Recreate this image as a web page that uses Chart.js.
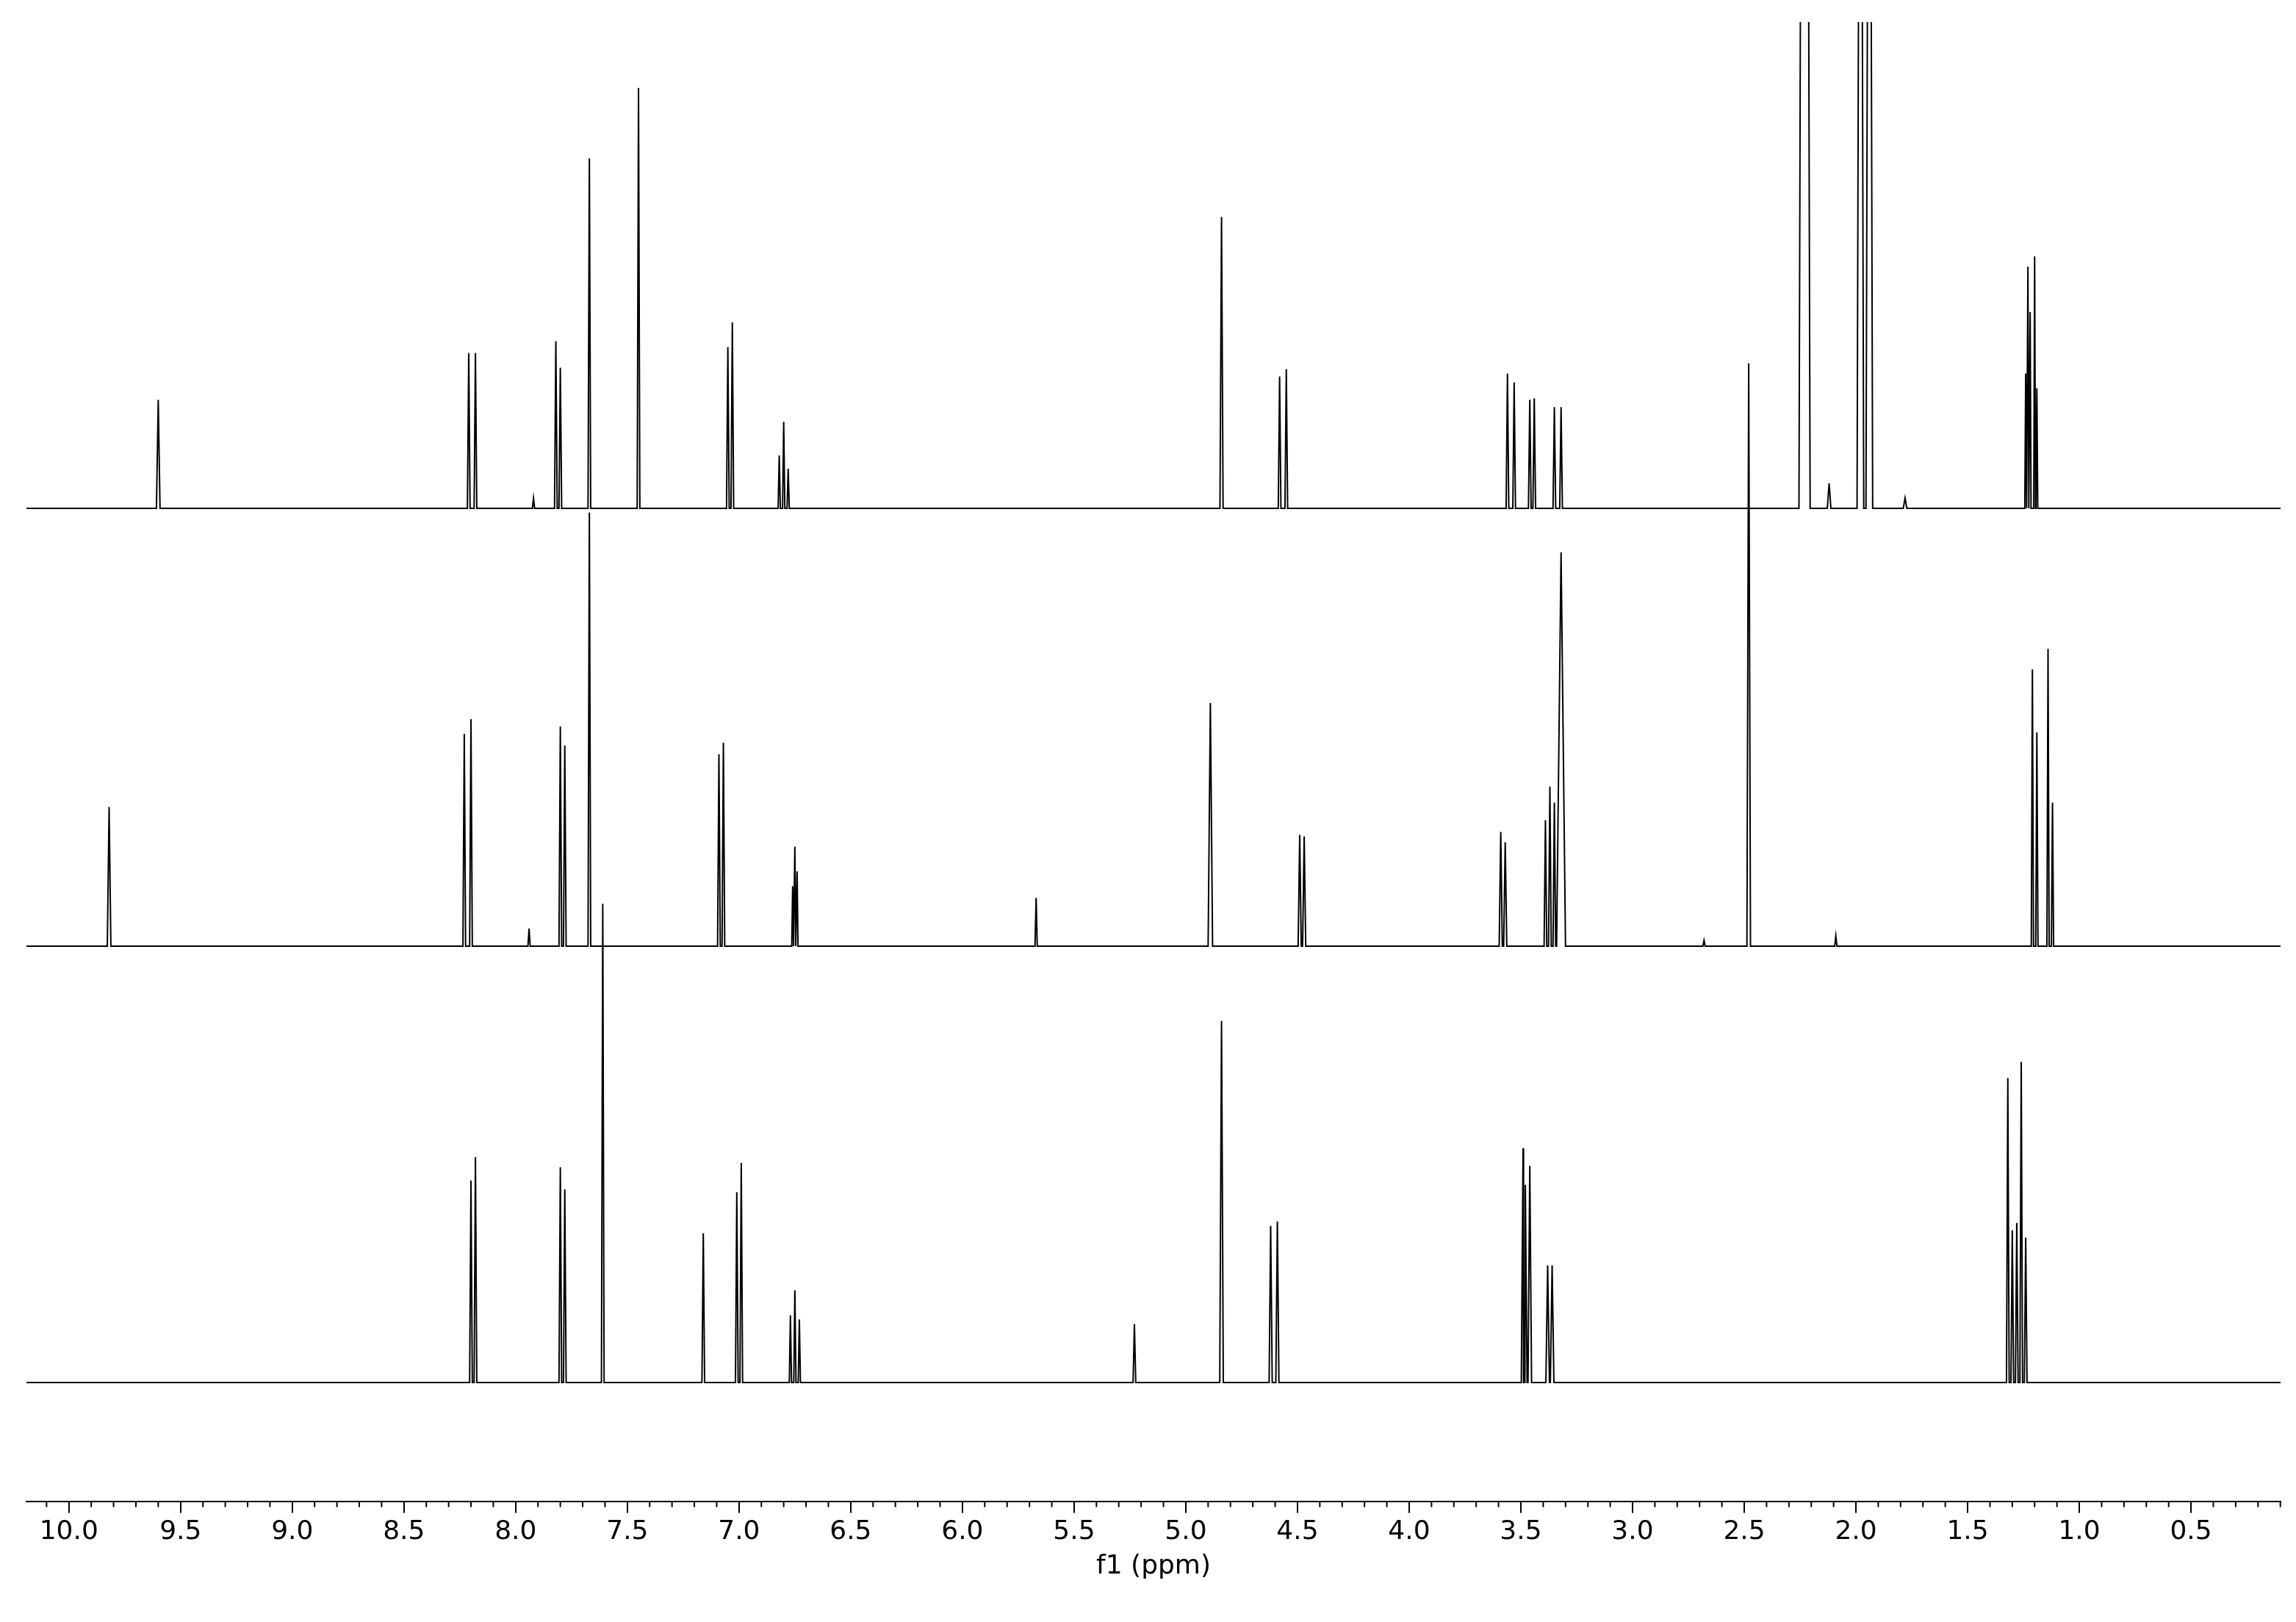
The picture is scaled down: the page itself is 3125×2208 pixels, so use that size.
<!DOCTYPE html>
<html>
<head>
<meta charset="utf-8">
<script src="https://cdn.jsdelivr.net/npm/chart.js@4"></script>
<style>
  html, body { margin: 0; padding: 0; background: #fff; }
  #wrap { width: 3125px; height: 2208px; }
</style>
</head>
<body>
<div id="wrap"><canvas id="nmr" width="3125" height="2208"></canvas></div>
<script>
// peak lists: ppm, height above the trace baseline, half width (ppm)
var topPpm    = [9.60, 8.21, 8.18, 7.92, 7.82, 7.80, 7.67, 7.45, 7.05, 7.03, 6.82, 6.80, 6.78, 4.84, 4.58, 4.55, 3.56, 3.53, 3.46, 3.44, 3.35, 3.32, 2.24, 2.22, 2.12, 1.98, 1.94, 1.78, 1.24, 1.23, 1.22, 1.20, 1.19];
var topHeight = [74, 106, 106, 7, 114, 96, 239, 287, 110, 127, 36, 59, 27, 199, 90, 95, 92, 86, 74, 75, 69, 69, 800, 800, 17, 800, 800, 7, 92, 165, 134, 172, 82];
var topWidth  = [0.008, 0.006, 0.006, 0.005, 0.006, 0.006, 0.006, 0.006, 0.006, 0.006, 0.005, 0.005, 0.005, 0.007, 0.006, 0.006, 0.006, 0.006, 0.006, 0.006, 0.006, 0.006, 0.035, 0.035, 0.008, 0.015, 0.015, 0.008, 0.004, 0.004, 0.004, 0.004, 0.004];

var midPpm    = [9.82, 8.23, 8.20, 7.94, 7.80, 7.78, 7.67, 7.09, 7.07, 6.76, 6.75, 6.74, 5.67, 4.89, 4.49, 4.47, 3.59, 3.57, 3.39, 3.37, 3.35, 3.32, 2.68, 2.48, 2.09, 1.21, 1.19, 1.14, 1.12];
var midHeight = [95, 145, 155, 12, 150, 137, 296, 131, 139, 41, 68, 51, 33, 166, 76, 75, 78, 71, 86, 109, 98, 269, 4, 398, 7, 189, 146, 203, 98];
var midWidth  = [0.008, 0.006, 0.006, 0.005, 0.006, 0.006, 0.006, 0.006, 0.006, 0.004, 0.004, 0.004, 0.005, 0.01, 0.007, 0.007, 0.007, 0.007, 0.006, 0.006, 0.006, 0.02, 0.005, 0.008, 0.005, 0.005, 0.005, 0.005, 0.005];

var botPpm    = [8.20, 8.18, 7.80, 7.78, 7.61, 7.16, 7.01, 6.99, 6.77, 6.75, 6.73, 5.23, 4.84, 4.62, 4.59, 3.49, 3.48, 3.46, 3.38, 3.36, 1.32, 1.30, 1.28, 1.26, 1.24];
var botHeight = [138, 154, 147, 132, 327, 102, 130, 150, 46, 63, 43, 40, 247, 107, 110, 160, 135, 148, 80, 80, 208, 104, 109, 219, 99];
var botWidth  = [0.006, 0.006, 0.006, 0.006, 0.006, 0.006, 0.006, 0.006, 0.005, 0.005, 0.005, 0.006, 0.008, 0.007, 0.007, 0.008, 0.008, 0.008, 0.008, 0.008, 0.006, 0.006, 0.006, 0.006, 0.006];

var baselines = [678, 379, 81];
var tickLabels = [10.0, 9.5, 9.0, 8.5, 8.0, 7.5, 7.0, 6.5, 6.0, 5.5, 5.0, 4.5, 4.0, 3.5, 3.0, 2.5, 2.0, 1.5, 1.0, 0.5];

var xMin = 0.099, xMax = 10.19;

// each peak drawn as a narrow spike on a flat baseline
function trace(ppm, h, w, base) {
    var pts = [{x: xMax, y: base}, {x: xMin, y: base}];
    for (var i = 0; i < ppm.length; i++) {
        pts.push({x: ppm[i] + w[i], y: base});
        pts.push({x: ppm[i], y: base + h[i]});
        pts.push({x: ppm[i] - w[i], y: base});
    }
    pts.sort(function (a, b) { return b.x - a.x; });
    return pts;
}

var minorTicks = {
    id: 'minorTicks',
    afterDraw: function (chart) {
        var sx = chart.scales.x, ctx = chart.ctx, yb = chart.chartArea.bottom;
        ctx.save();
        ctx.strokeStyle = '#000';
        ctx.lineWidth = 2;
        for (var v = 1; v <= 101; v++) {
            var p = v / 10;
            if (p < xMin || p > xMax || v % 5 === 0) continue;
            var px = sx.getPixelForValue(p);
            ctx.beginPath();
            ctx.moveTo(px, yb);
            ctx.lineTo(px, yb + 8);
            ctx.stroke();
        }
        ctx.restore();
    }
};

function ds(pts) {
    return { data: pts, borderColor: '#000', borderWidth: 2, pointRadius: 0, fill: false, tension: 0 };
}

new Chart('nmr', {
    type: 'line',
    data: {
        datasets: [
            ds(trace(topPpm, topHeight, topWidth, baselines[0])),
            ds(trace(midPpm, midHeight, midWidth, baselines[1])),
            ds(trace(botPpm, botHeight, botWidth, baselines[2]))
        ]
    },
    options: {
        responsive: false,
        animation: false,
        layout: { padding: { left: 36, right: 21, top: 30, bottom: 54 } },
        plugins: { legend: { display: false }, tooltip: { enabled: false } },
        scales: {
            x: {
                type: 'linear', reverse: true, min: xMin, max: xMax,
                afterBuildTicks: function (axis) {
                    axis.ticks = tickLabels.map(function (v) { return {value: v}; });
                },
                ticks: {
                    autoSkip: false, maxRotation: 0, color: '#000', padding: 4,
                    font: { family: 'DejaVu Sans', size: 36 },
                    callback: function (v) { return v.toFixed(1); }
                },
                grid: { display: true, drawOnChartArea: false, tickLength: 16, color: '#000', lineWidth: 2 },
                border: { display: true, color: '#000', width: 2 },
                title: { display: true, text: 'f1 (ppm)', color: '#000', padding: 0,
                         font: { family: 'DejaVu Sans', size: 36 } }
            },
            y: { display: false, min: 0, max: 1010 }
        }
    },
    plugins: [minorTicks]
});
</script>
</body>
</html>
